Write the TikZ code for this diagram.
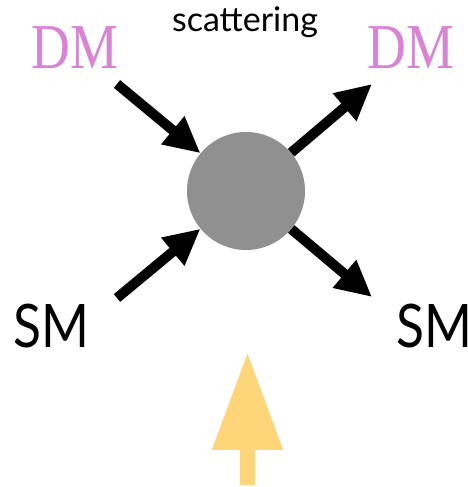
\documentclass[tikz,border=0pt]{standalone}
\usepackage{fontspec}
\setmainfont{Liberation Serif}
\newfontfamily\labelsans{Lato}
\usetikzlibrary{arrows.meta}
\definecolor{dmpink}{RGB}{218,130,214}
\definecolor{blobgray}{RGB}{144,144,144}
\definecolor{pushyellow}{RGB}{255,213,122}
\tikzset{
  dmlabel/.style={text=dmpink, inner sep=0pt, anchor=base, font=\fontsize{64}{64}\selectfont, xscale=0.84, transform shape},
  smlabel/.style={text=black, inner sep=0pt, anchor=base, font=\labelsans\fontsize{60}{60}\selectfont, xscale=0.86, transform shape},
  particle/.style={line width=10pt, -{Triangle[length=36pt,width=34pt]}},
}
\begin{document}
\begin{tikzpicture}[x=1pt, y=1pt]
  \useasboundingbox (0,0) rectangle (468,487);

  % interaction vertex
  \node[circle, fill=blobgray, minimum size=118pt, inner sep=0pt] (blob) at (246,296) {};

  % labels
  \node[inner sep=0pt, anchor=base, font=\labelsans\fontsize{34}{34}\selectfont] (title) at (245,455) {scattering};
  \node[dmlabel] (dmin) at (74.5,418) {DM};
  \node[dmlabel] (dmout) at (410.5,418) {DM};
  \node[smlabel] (smin) at (51.5,139) {SM};
  \node[smlabel] (smout) at (434,139) {SM};

  % free ends of the particle lines
  \coordinate (dmtail) at (117,403);
  \coordinate (dmhead) at (372,403);
  \coordinate (smtail) at (117,189);
  \coordinate (smhead) at (372,190);

  \draw[particle] (dmtail) -- (blob);
  \draw[particle] (smtail) -- (blob);
  \draw[particle] (blob) -- (dmhead);
  \draw[particle] (blob) -- (smhead);

  % upward push arrow below the vertex
  \coordinate (pushbase) at (247.5,2);
  \coordinate (pushtip) at (247.5,135);
  \draw[pushyellow, line width=15pt, -{Triangle[length=98pt,width=67pt]}] (pushbase) -- (pushtip);
\end{tikzpicture}
\end{document}
